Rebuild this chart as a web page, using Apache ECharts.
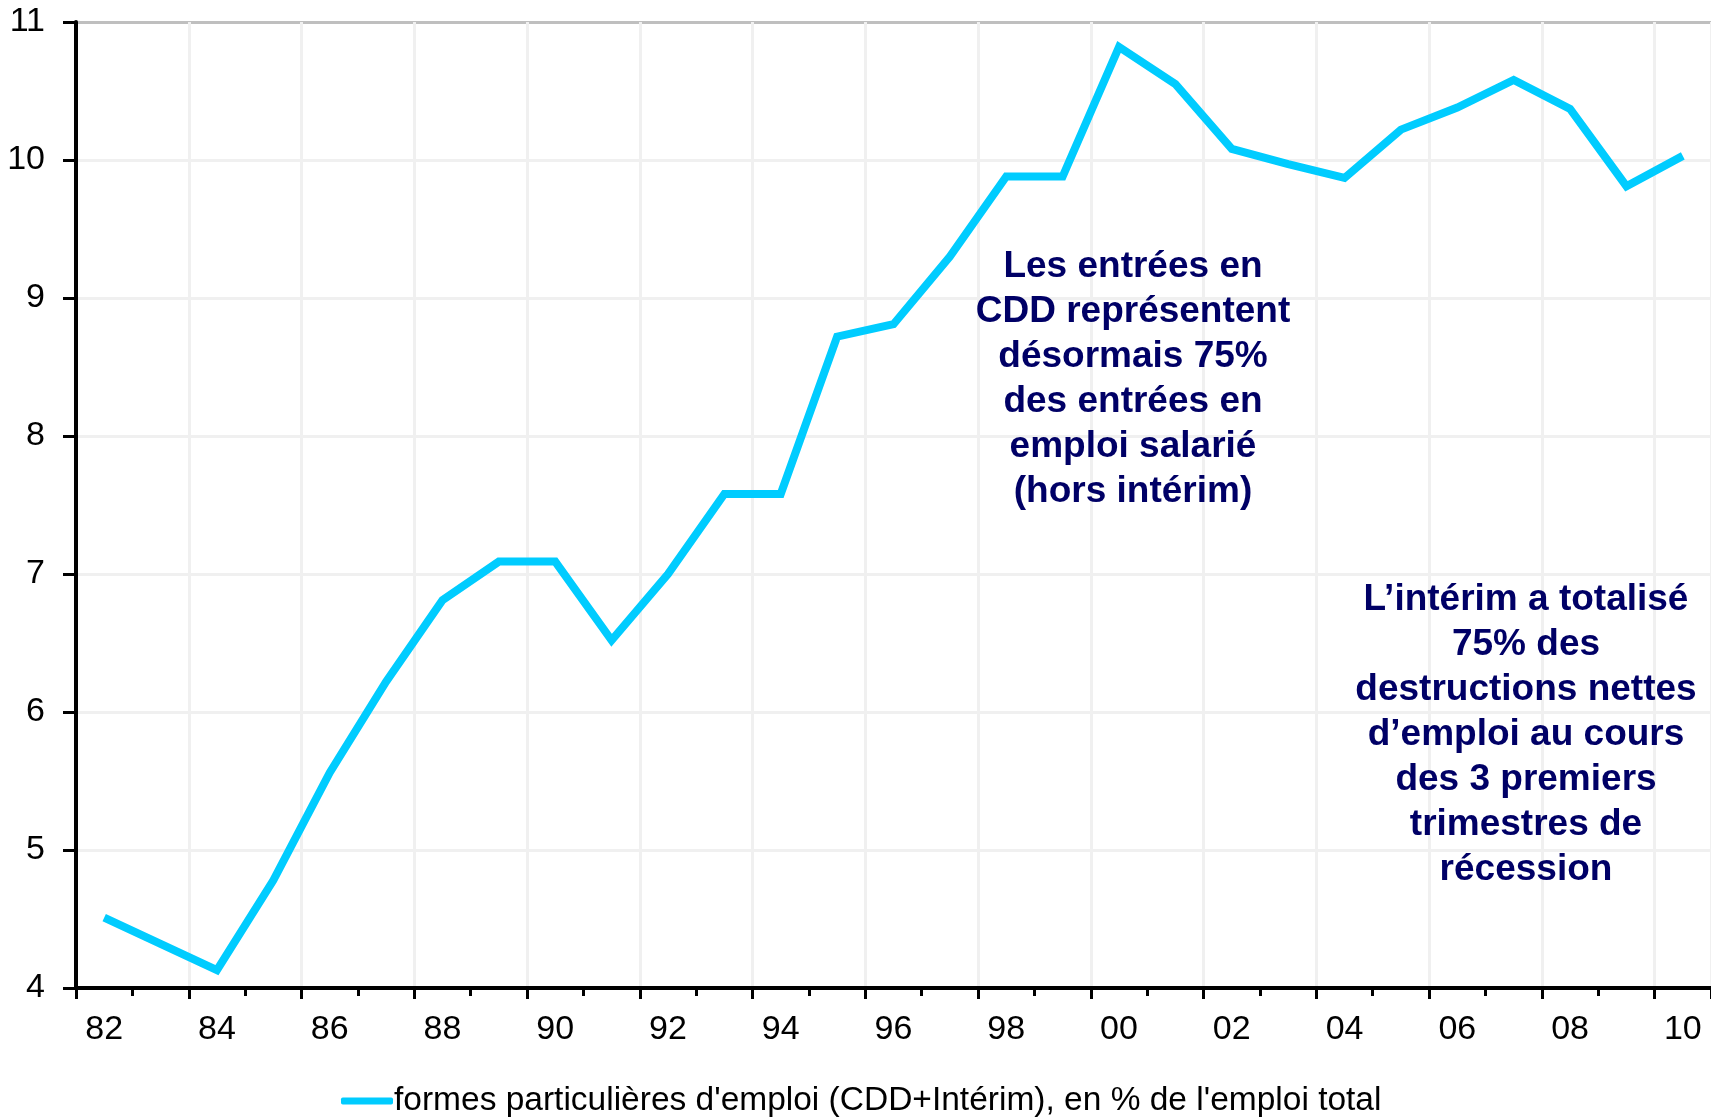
<!DOCTYPE html>
<html>
<head>
<meta charset="utf-8">
<script src="https://cdn.jsdelivr.net/npm/echarts@6/dist/echarts.min.js"></script>
<style>
  html, body { margin: 0; padding: 0; background: #fff; }
  #main { width: 1711px; height: 1117px; }
</style>
</head>
<body>
<div id="main"></div>
<script>
// années (libellés sur 2 chiffres)
const years = ['82','83','84','85','86','87','88','89','90','91','92','93','94','95','96',
               '97','98','99','00','01','02','03','04','05','06','07','08','09','10'];
// formes particulières d'emploi (CDD+Intérim), en % de l'emploi total
const partEmploi = [4.51, 4.32, 4.13, 4.78, 5.56, 6.22, 6.81, 7.09, 7.09, 6.52, 7.0, 7.58, 7.58, 8.72, 8.81,
                    9.30, 9.88, 9.88, 10.82, 10.55, 10.08, 9.97, 9.87, 10.22, 10.38, 10.58, 10.37, 9.81, 10.03];
const yMin = 4, yMax = 11, yStep = 1;
const seriesName = "formes particulières d'emploi (CDD+Intérim), en % de l'emploi total";
const note1 = 'Les entrées en\nCDD représentent\ndésormais 75%\ndes entrées en\nemploi salarié\n(hors intérim)';
const note2 = 'L\u2019intérim a totalisé\n75% des\ndestructions nettes\nd\u2019emploi au cours\ndes 3 premiers\ntrimestres de\nrécession';

const FONT = '"Liberation Sans", Arial, sans-serif';

// quadrillage gris clair, bord haut gris plus foncé
let gridColors = [];
for (let v = yMin; v < yMax; v += yStep) gridColors.push('#F0F0F0');
gridColors.push('#BFBFBF');

let myChart = echarts.init(document.getElementById('main'));
let option = {
  animation: false,
  grid: { left: 76, right: -3, top: 22, bottom: 129 },
  legend: {
    data: [seriesName],
    left: 336, top: 1079,
    icon: 'roundRect',
    itemWidth: 52, itemHeight: 7,
    textStyle: { fontFamily: FONT, fontSize: 33.5, color: '#000', padding: [0, 0, 0, -4] }
  },
  xAxis: [
    {
      type: 'category',
      data: years,
      position: 'bottom',
      boundaryGap: true,
      axisLine: { show: true, lineStyle: { color: '#000', width: 4 } },
      axisTick: { show: true, interval: 1, length: 11, lineStyle: { color: '#000', width: 3 } },
      axisLabel: { interval: 1, margin: 25, fontFamily: FONT, fontSize: 34, color: '#000' },
      splitLine: { show: true, interval: 1, lineStyle: { color: '#F0F0F0', width: 3 } }
    },
    {
      // petites graduations annuelles
      type: 'category',
      data: years,
      position: 'bottom',
      boundaryGap: true,
      axisLine: { show: false },
      axisTick: { show: true, interval: 0, length: 8, lineStyle: { color: '#000', width: 3 } },
      axisLabel: { show: false },
      splitLine: { show: false }
    }
  ],
  yAxis: {
    type: 'value',
    min: yMin, max: yMax, interval: yStep,
    axisLine: { show: true, lineStyle: { color: '#000', width: 4 } },
    axisTick: { show: true, length: 13, lineStyle: { color: '#000', width: 3 } },
    axisLabel: { margin: 31, fontFamily: FONT, fontSize: 34, color: '#000' },
    splitLine: { show: true, lineStyle: { color: gridColors, width: 3 } }
  },
  series: [
    {
      name: seriesName,
      type: 'line',
      data: partEmploi,
      showSymbol: false,
      symbol: 'none',
      color: '#00CCFF',
      lineStyle: { color: '#00CCFF', width: 8, join: 'miter' },
      z: 5
    }
  ],
  graphic: [
    {
      type: 'text', x: 1133, y: 244, z: 10,
      style: {
        text: note1, align: 'center', verticalAlign: 'top', lineHeight: 45,
        font: 'bold 37px ' + FONT, fill: '#000066'
      }
    },
    {
      type: 'text', x: 1526, y: 577, z: 10,
      style: {
        text: note2, align: 'center', verticalAlign: 'top', lineHeight: 45,
        font: 'bold 37px ' + FONT, fill: '#000066'
      }
    }
  ]
};
myChart.setOption(option);
</script>
</body>
</html>
